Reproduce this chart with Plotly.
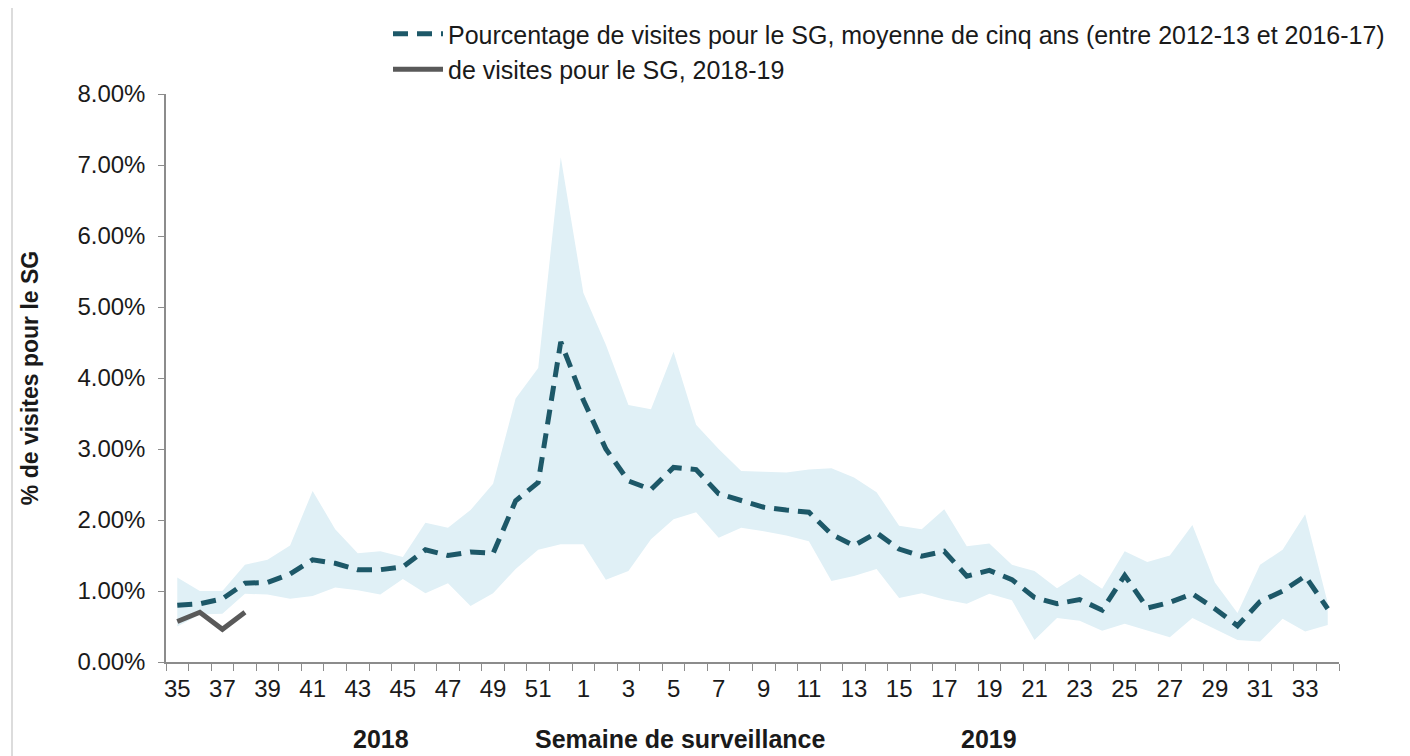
import plotly.graph_objects as go

weeks = [str(w) for w in list(range(35, 53)) + list(range(1, 35))]

mean_5yr = [0.80, 0.82, 0.89, 1.11, 1.12, 1.24, 1.44, 1.39, 1.30, 1.30, 1.34, 1.58, 1.50, 1.55, 1.53,
            2.27, 2.53, 4.51, 3.69, 3.00, 2.55, 2.43, 2.74, 2.71, 2.37, 2.28, 2.18, 2.14, 2.11, 1.80,
            1.64, 1.82, 1.59, 1.49, 1.56, 1.21, 1.29, 1.16, 0.91, 0.82, 0.88, 0.73, 1.22, 0.76, 0.84,
            0.96, 0.75, 0.51, 0.85, 1.00, 1.21, 0.75]

upper_5yr = [1.19, 1.00, 1.00, 1.37, 1.44, 1.64, 2.41, 1.87, 1.53, 1.56, 1.48, 1.96, 1.89, 2.14, 2.51,
             3.71, 4.14, 7.11, 5.20, 4.47, 3.62, 3.56, 4.37, 3.34, 3.00, 2.69, 2.68, 2.67, 2.71, 2.73,
             2.60, 2.39, 1.92, 1.87, 2.15, 1.63, 1.67, 1.37, 1.28, 1.04, 1.24, 1.03, 1.56, 1.41, 1.50,
             1.93, 1.12, 0.69, 1.37, 1.58, 2.08, 0.83]

lower_5yr = [0.50, 0.67, 0.68, 0.96, 0.95, 0.89, 0.93, 1.05, 1.01, 0.95, 1.17, 0.97, 1.11, 0.79, 0.97,
             1.31, 1.58, 1.66, 1.66, 1.16, 1.28, 1.73, 2.01, 2.11, 1.75, 1.89, 1.84, 1.78, 1.70, 1.14,
             1.21, 1.31, 0.90, 0.97, 0.88, 0.82, 0.96, 0.87, 0.31, 0.62, 0.58, 0.44, 0.54, 0.44, 0.35,
             0.62, 0.46, 0.31, 0.29, 0.61, 0.43, 0.52]

current_weeks = ["35", "36", "37", "38"]
current_2018_19 = [0.57, 0.70, 0.46, 0.70]

tick_text = [w if i % 2 == 0 else "" for i, w in enumerate(weeks)]

BAND = "#e0f0f6"
TEAL = "#1d5868"
GREY = "#595959"
TXT = "#1a1a1a"
AX = "#8c8c8c"
FONT = "Liberation Sans, Arial, sans-serif"
FS = 24

fig = go.Figure()
fig.add_trace(go.Scatter(x=weeks, y=lower_5yr, mode="lines", line=dict(width=0, color=BAND),
                         showlegend=False, hoverinfo="skip"))
fig.add_trace(go.Scatter(x=weeks, y=upper_5yr, mode="lines", line=dict(width=0, color=BAND),
                         fill="tonexty", fillcolor=BAND, showlegend=False, hoverinfo="skip"))
fig.add_trace(go.Scatter(x=weeks, y=mean_5yr, mode="lines",
                         name="Pourcentage de visites pour le SG, moyenne de cinq ans (entre 2012-13 et 2016-17)",
                         line=dict(color=TEAL, width=5, dash="15px,9px")))
fig.add_trace(go.Scatter(x=current_weeks, y=current_2018_19, mode="lines",
                         name="de visites pour le SG, 2018-19",
                         line=dict(color=GREY, width=5)))

# the page body adds an 8px offset; the figure is sized and placed to compensate
OFF = 8
W, H = 1410 - OFF, 756 - OFF
L, T = 166 - OFF, 94 - OFF
R = W - (1339 - OFF)
B = H - (662 - OFF)
pw, ph = W - L - R, H - T - B


def px(xp):
    return (xp - OFF - L) / pw


def py(yp):
    return (H - B - (yp - OFF)) / ph


fig.update_layout(
    width=W, height=H,
    margin=dict(l=L, r=R, t=T, b=B, autoexpand=False),
    paper_bgcolor="white", plot_bgcolor="white",
    font=dict(family=FONT, size=FS, color=TXT),
    showlegend=True,
    legend=dict(x=px(388), y=py(11), xanchor="left", yanchor="top", traceorder="normal",
                bgcolor="rgba(0,0,0,0)", font=dict(size=25, color=TXT),
                tracegroupgap=0, itemwidth=50),
    xaxis=dict(type="category", categoryorder="array", categoryarray=weeks,
               range=[-0.5, len(weeks) - 0.5], automargin=False,
               tickmode="array", tickvals=weeks, ticktext=tick_text, tickangle=0,
               tickson="boundaries", ticks="outside", ticklen=7, tickcolor=AX,
               ticklabelstandoff=4,
               showline=True, linecolor=AX, linewidth=1.5,
               showgrid=False, zeroline=False,
               tickfont=dict(size=FS, color=TXT)),
    yaxis=dict(range=[0, 8], dtick=1, tickformat=".2f", ticksuffix="%", automargin=False,
               ticks="outside", ticklen=6, tickcolor=AX, ticklabelstandoff=8,
               showline=True, linecolor=AX, linewidth=1.5,
               showgrid=False, zeroline=False,
               tickfont=dict(size=FS, color=TXT),
               title=dict(text="% de visites pour le SG", standoff=32,
                          font=dict(size=23, color=TXT, weight="bold"))),
)

for txt, xp in [("2018", 381), ("Semaine de surveillance", 680), ("2019", 989)]:
    fig.add_annotation(x=px(xp), y=py(755), xref="paper", yref="paper", text=txt,
                       showarrow=False, xanchor="center", yanchor="bottom",
                       font=dict(size=25, color=TXT, weight="bold"))

fig.add_shape(type="line", xref="paper", yref="paper", x0=px(12), x1=px(12), y0=py(8), y1=py(756),
              line=dict(color="#d0d0d0", width=1.5))

fig.write_html("out.html")
